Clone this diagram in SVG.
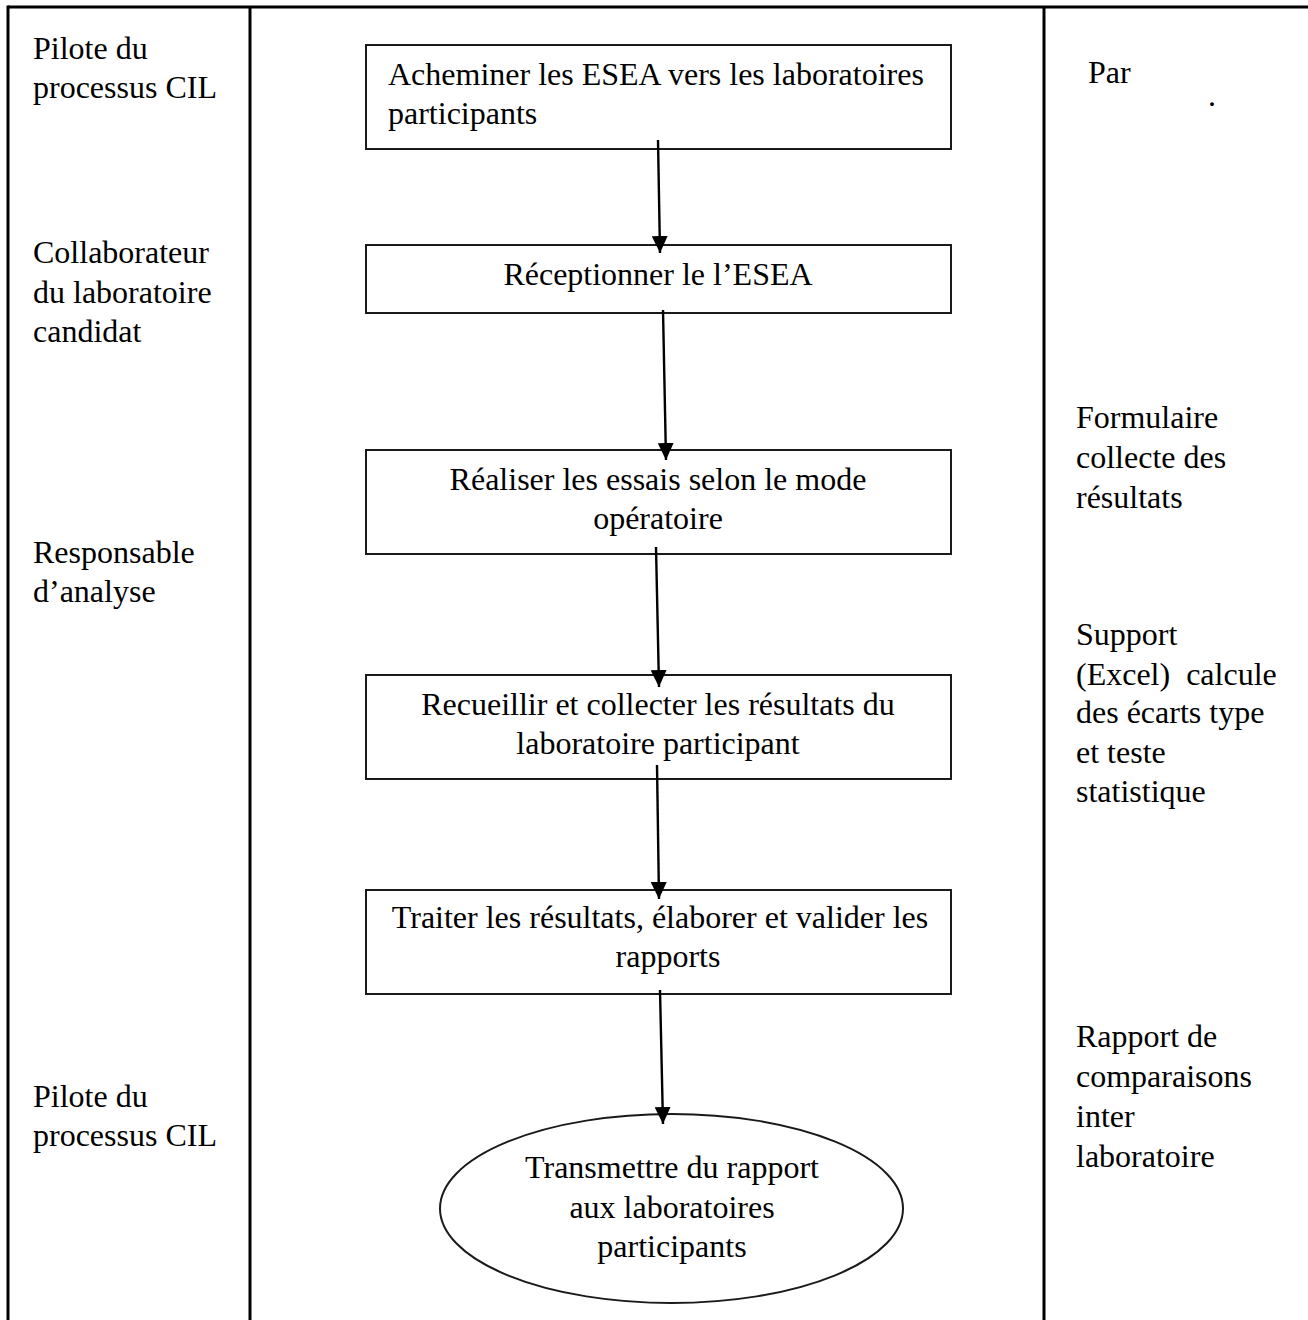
<svg xmlns="http://www.w3.org/2000/svg" width="1308" height="1320" viewBox="0 0 1308 1320">
<style>
text{font-family:"Liberation Serif","Times New Roman",serif;font-size:32px;fill:#000}
.c{text-anchor:middle}
.tbl{stroke:#000;stroke-width:3;fill:none}
.box{stroke:#1a1a1a;stroke-width:2;fill:#fff}
.conn{stroke:#000;stroke-width:2.4;fill:none}
</style>
<defs>
<marker id="ah" markerUnits="userSpaceOnUse" markerWidth="17" markerHeight="16" refX="17" refY="8" orient="auto" viewBox="0 0 17 16">
<path d="M0,0 L17,8 L0,16 Z" fill="#000"/>
</marker>
</defs>
<rect width="1308" height="1320" fill="#fff"/>
<g id="table">
<line class="tbl" x1="8" y1="7" x2="1308" y2="7"/>
<line class="tbl" x1="8" y1="5.5" x2="8" y2="1320"/>
<line class="tbl" x1="250" y1="7" x2="250" y2="1320"/>
<line class="tbl" x1="1044" y1="7" x2="1044" y2="1320"/>
</g>
<g id="roles">
<text x="33" y="59">Pilote du</text>
<text x="33" y="98">processus CIL</text>
<text x="33" y="263">Collaborateur</text>
<text x="33" y="303">du laboratoire</text>
<text x="33" y="342">candidat</text>
<text x="33" y="563">Responsable</text>
<text x="33" y="602">d’analyse</text>
<text x="33" y="1107">Pilote du</text>
<text x="33" y="1146">processus CIL</text>
</g>
<g id="documents">
<text x="1088" y="83">Par</text>
<text x="1208" y="106">.</text>
<text x="1076" y="428">Formulaire</text>
<text x="1076" y="468">collecte des</text>
<text x="1076" y="508">résultats</text>
<text x="1076" y="645">Support</text>
<text x="1076" y="685" xml:space="preserve">(Excel)  calcule</text>
<text x="1076" y="723">des écarts type</text>
<text x="1076" y="763">et teste</text>
<text x="1076" y="802">statistique</text>
<text x="1076" y="1047">Rapport de</text>
<text x="1076" y="1087">comparaisons</text>
<text x="1076" y="1127">inter</text>
<text x="1076" y="1167">laboratoire</text>
</g>
<g id="n1">
<rect class="box" x="366" y="45" width="585" height="104"/>
<text x="388" y="85">Acheminer les ESEA vers les laboratoires</text>
<text x="388" y="124">participants</text>
</g>
<g id="n2">
<rect class="box" x="366" y="245" width="585" height="68"/>
<text class="c" x="658" y="285">Réceptionner le l’ESEA</text>
</g>
<g id="n3">
<rect class="box" x="366" y="450" width="585" height="104"/>
<text class="c" x="658" y="490">Réaliser les essais selon le mode</text>
<text class="c" x="658" y="529">opératoire</text>
</g>
<g id="n4">
<rect class="box" x="366" y="675" width="585" height="104"/>
<text class="c" x="658" y="715">Recueillir et collecter les résultats du</text>
<text class="c" x="658" y="754">laboratoire participant</text>
</g>
<g id="n5">
<rect class="box" x="366" y="890" width="585" height="104"/>
<text class="c" x="660" y="928">Traiter les résultats, élaborer et valider les</text>
<text class="c" x="668" y="967">rapports</text>
</g>
<g id="n6">
<ellipse class="box" cx="671.5" cy="1208.5" rx="231.5" ry="94.5"/>
<text class="c" x="672" y="1178">Transmettre du rapport</text>
<text class="c" x="672" y="1218">aux laboratoires</text>
<text class="c" x="672" y="1257">participants</text>
</g>
<g id="connectors">
<line class="conn" x1="658" y1="140" x2="660" y2="253" marker-end="url(#ah)"/>
<line class="conn" x1="663" y1="310" x2="666" y2="460" marker-end="url(#ah)"/>
<line class="conn" x1="656" y1="547" x2="659" y2="687" marker-end="url(#ah)"/>
<line class="conn" x1="657" y1="765" x2="659" y2="899" marker-end="url(#ah)"/>
<line class="conn" x1="660" y1="990" x2="663" y2="1124" marker-end="url(#ah)"/>
</g>
</svg>
